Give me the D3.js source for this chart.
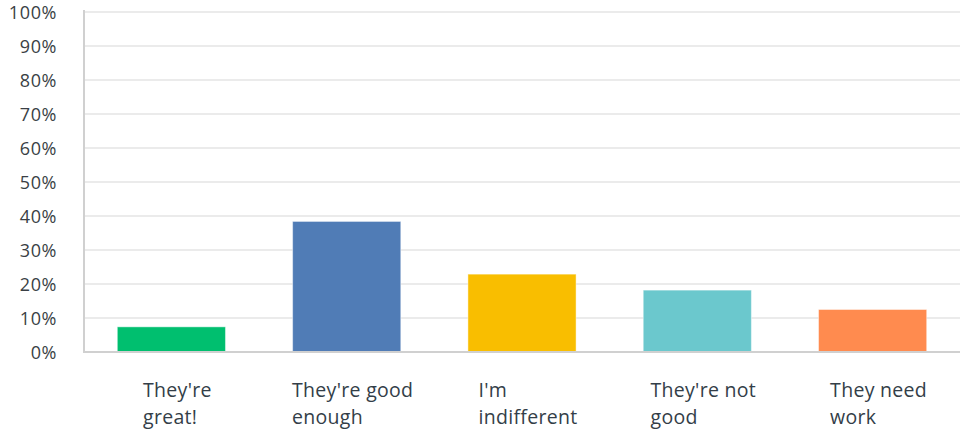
<!DOCTYPE html>
<html>
<head>
<meta charset="utf-8">
<script src="https://cdn.jsdelivr.net/npm/d3@7"></script>
<style>
  html, body { margin: 0; padding: 0; background: #fff; }
  svg { display: block; }
</style>
</head>
<body>
<svg id="chart" width="962" height="429"></svg>
<script>
// Answer choices and the share of respondents choosing each (%)
const categories = [
  ["They're", "great!"],
  ["They're good", "enough"],
  ["I'm", "indifferent"],
  ["They're not", "good"],
  ["They need", "work"]
];
const values = [7.4, 38.4, 22.9, 18.2, 12.5];
const colors = ["#00BF6F", "#507CB6", "#F9BE00", "#6BC8CD", "#FF8B4F"];
const yTicks = [0, 10, 20, 30, 40, 50, 60, 70, 80, 90, 100];

const svg = d3.select("#chart");
const plotLeft = 84, plotRight = 960, plotTop = 12, plotBottom = 352;

const x = d3.scaleBand()
  .domain(d3.range(values.length))
  .range([plotLeft, plotRight])
  .paddingInner(0.383)
  .paddingOuter(0.19);

const y = d3.scaleLinear().domain([0, 100]).range([plotBottom, plotTop]);

// horizontal gridlines
svg.append("g")
  .selectAll("line")
  .data(yTicks.slice(1))
  .join("line")
  .attr("x1", plotLeft).attr("x2", plotRight)
  .attr("y1", d => y(d)).attr("y2", d => y(d))
  .attr("stroke", "#ebebeb").attr("stroke-width", 2);

// y axis tick labels
const yAxis = d3.axisLeft(y)
  .tickValues(yTicks)
  .tickFormat(d => d + "%")
  .tickSize(0)
  .tickPadding(0);
const ya = svg.append("g").attr("transform", "translate(57,0)").call(yAxis);
ya.select(".domain").remove();
ya.selectAll("text")
  .attr("font-family", "'Open Sans', sans-serif")
  .attr("font-size", 18)
  .attr("letter-spacing", "0.6px")
  .attr("fill", "#3a3f45")
  .attr("dy", "0.35em");

// bars
svg.append("g")
  .selectAll("rect")
  .data(values)
  .join("rect")
  .attr("x", (d, i) => x(i))
  .attr("width", x.bandwidth())
  .attr("y", d => y(d))
  .attr("height", d => y(0) - y(d))
  .attr("fill", (d, i) => colors[i])
  .attr("stroke", "rgba(255,255,255,0.45)")
  .attr("stroke-width", 1);

// axis lines
svg.append("line")
  .attr("x1", plotLeft).attr("x2", plotLeft)
  .attr("y1", 10).attr("y2", plotBottom + 1)
  .attr("stroke", "#d0d0d0").attr("stroke-width", 2);
svg.append("line")
  .attr("x1", plotLeft - 1).attr("x2", plotRight)
  .attr("y1", plotBottom).attr("y2", plotBottom)
  .attr("stroke", "#d0d0d0").attr("stroke-width", 2);

// category labels: left-aligned block centred under each bar
const lab = svg.append("g")
  .selectAll("text")
  .data(categories)
  .join("text")
  .attr("font-family", "'Open Sans', sans-serif")
  .attr("font-size", 19.5)
  .attr("letter-spacing", "0.3px")
  .attr("fill", "#333e48");
lab.each(function(lines, i) {
  const t = d3.select(this);
  lines.forEach((ln, k) => {
    t.append("tspan").attr("x", 0).attr("y", 397 + k * 27).text(ln);
  });
  const w = this.getBBox().width;
  const cx = x(i) + x.bandwidth() / 2;
  t.attr("transform", `translate(${cx - w / 2 + 6},0)`);
});
</script>
</body>
</html>
